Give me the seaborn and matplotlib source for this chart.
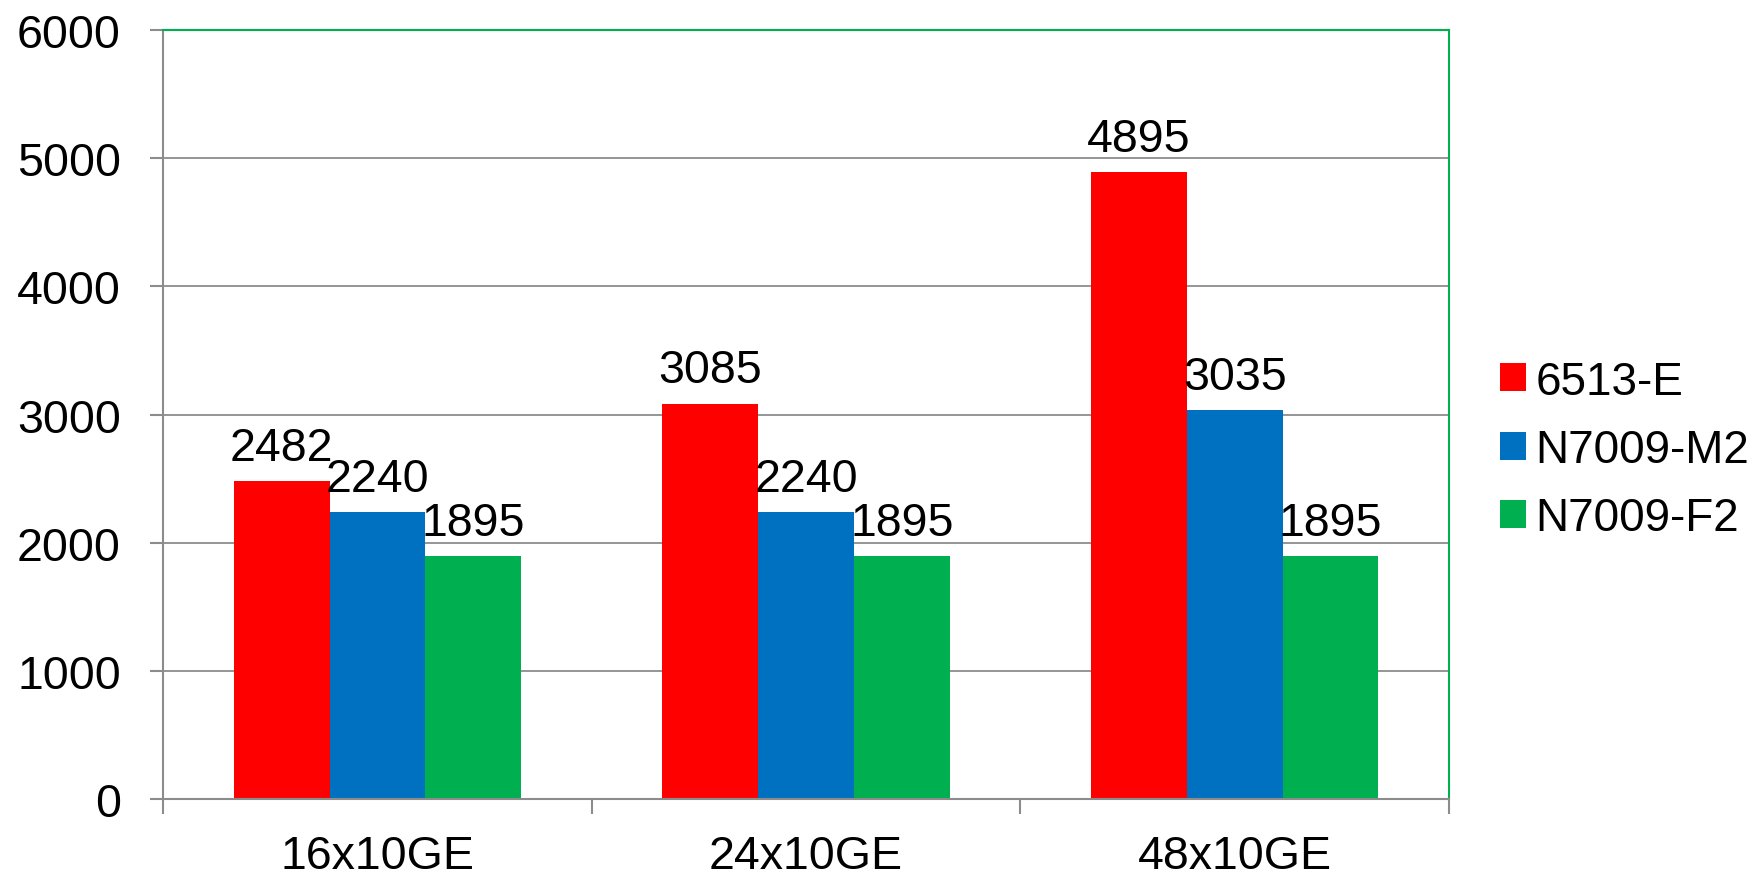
import seaborn as sns
import pandas as pd
import matplotlib.pyplot as plt

# Chart data
categories = ["16x10GE", "24x10GE", "48x10GE"]
series = ["6513-E", "N7009-M2", "N7009-F2"]
values_6513e = [2482, 3085, 4895]
values_m2 = [2240, 2240, 3035]
values_f2 = [1895, 1895, 1895]
y_ticks = [0, 1000, 2000, 3000, 4000, 5000, 6000]

colors = ["#ff0000", "#0070c0", "#00b050"]

# Long-form table for seaborn
data = []
for name, vals in zip(series, [values_6513e, values_m2, values_f2]):
    for cat, v in zip(categories, vals):
        data.append({"Category": cat, "Series": name, "Value": v})
df = pd.DataFrame(data)

sns.set_style("white")
plt.rcParams['font.family'] = ['Liberation Sans', 'DejaVu Sans']
plt.rcParams['text.color'] = 'black'
plt.rcParams['xtick.labelcolor'] = 'black'
plt.rcParams['ytick.labelcolor'] = 'black'

fig = plt.figure(figsize=(17.63, 8.79), dpi=100)
ax = fig.add_axes([0.0925, 0.0899, 0.7294, 0.8748])

sns.barplot(
    data=df, x="Category", y="Value", hue="Series",
    palette=colors, width=0.67, gap=0, edgecolor="none",
    saturation=1, ax=ax
)

# Data labels
for container in ax.containers:
    ax.bar_label(container, fontsize=33.5, padding=8, color="black")

ax.set_ylim(0, 6000)
ax.set_xlim(-0.5, 2.5)
ax.set_yticks(y_ticks)
ax.set_xlabel("")
ax.set_ylabel("")

# Gridlines and axis styling
ax.yaxis.grid(True, color="#8c8c8c", linewidth=1.3)
ax.set_axisbelow(True)
for side in ["left", "bottom"]:
    ax.spines[side].set_color("#8c8c8c")
    ax.spines[side].set_linewidth(1.5)
for side in ["top", "right"]:
    ax.spines[side].set_color("#00b050")
    ax.spines[side].set_linewidth(1.5)

# Category boundary ticks on x axis
ax.set_xticks([-0.5, 0.5, 1.5, 2.5], minor=True)
ax.tick_params(axis="x", which="minor", length=11, width=1.5, color="#8c8c8c", bottom=True)
ax.tick_params(axis="x", which="major", length=0, labelsize=33.5, pad=25)
ax.tick_params(axis="y", length=9.4, width=1.5, color="#8c8c8c", left=True, labelsize=33.5, pad=21)

# Legend
ax.legend(
    loc="center left", bbox_to_anchor=(1.022, 0.454), frameon=False,
    fontsize=33, handlelength=0.57, handleheight=0.57, handletextpad=0.2,
    labelspacing=0.53, borderpad=0
)

plt.savefig("out.png", dpi=100)
